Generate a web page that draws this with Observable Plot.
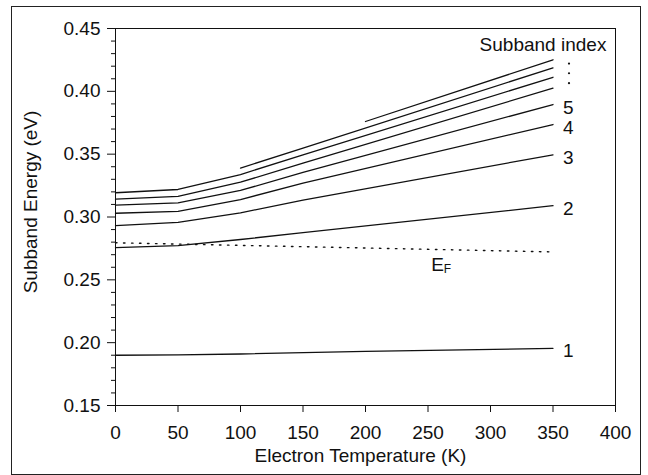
<!DOCTYPE html>
<html>
<head>
<meta charset="utf-8">
<script src="https://cdn.jsdelivr.net/npm/d3@7"></script>
<script src="https://cdn.jsdelivr.net/npm/@observablehq/plot@0.6"></script>
<style>
  body { margin: 0; background: #fff; }
  #wrap { position: relative; width: 648px; height: 475px; overflow: hidden; }
  #border { position: absolute; left: 11px; top: 6px; width: 628px; height: 467px; border: 1px solid #222; pointer-events: none; }
  #chart { position: absolute; left: 0; top: 0; }
</style>
</head>
<body>
<div id="wrap"><div id="chart"></div><div id="border"></div></div>
<script>
// Temperatures (K) at which subband energies were read
const temps = [0, 50, 100, 150, 200, 350];
// Subband energies (eV); null = no value (line not drawn there)
const band1 = [0.190, 0.1903, 0.191, null, 0.193, 0.1955];
const band2 = [0.2757, 0.2773, 0.2821, 0.2876, null, 0.309];
const band3 = [0.2932, 0.2958, 0.3033, 0.3135, null, 0.3495];
const band4 = [0.3030, 0.3045, 0.3139, 0.3269, null, 0.3736];
const band5 = [0.3094, 0.3112, 0.3211, 0.3355, null, 0.3895];
const band6 = [0.3142, 0.3164, 0.3277, 0.3429, null, 0.4025];
const band7 = [0.3193, 0.3219, 0.3338, 0.3495, null, 0.4112];
const band8 = [null, null, 0.3389, 0.3549, null, 0.4187];
const band9 = [null, null, null, null, 0.376, 0.4251];
const bands = [band1, band2, band3, band4, band5, band6, band7, band8, band9];
const bandLabels = ["1", "2", "3", "4", "5"];

// Fermi level
const efTemps = [0, 350];
const efValues = [0.2795, 0.2722];

// ellipsis dots for higher subbands
const ellipsisE = [0.4221, 0.4144, 0.4065];

const xTicks = [0, 50, 100, 150, 200, 250, 300, 350, 400];
const yTicks = [0.15, 0.20, 0.25, 0.30, 0.35, 0.40, 0.45];
const yMinor = d3.range(15, 46).filter(i => i % 5 !== 0).map(i => i / 100);

const rows = bands.flatMap((vals, i) =>
  temps.map((t, j) => ({t, e: vals[j], band: i + 1})).filter(d => d.e != null));
const endRows = bandLabels.map((lab, i) => ({t: temps[temps.length - 1], e: bands[i][bands[i].length - 1], lab}));
const efRows = efTemps.map((t, i) => ({t, e: efValues[i]}));
const dotRows = ellipsisE.map(e => ({t: 350, e}));

const FS = 19;
const chart = Plot.plot({
  width: 648,
  height: 475,
  marginLeft: 115,
  marginRight: 33,
  marginTop: 28,
  marginBottom: 70,
  style: {fontFamily: "'Liberation Sans', Arial, sans-serif", fontSize: FS + "px", color: "#111", background: "transparent"},
  x: {domain: [0, 400]},
  y: {domain: [0.15, 0.45]},
  marks: [
    Plot.axisX({ticks: xTicks, tickSize: 7, tickPadding: 13, tickFormat: d => String(d), label: null}),
    Plot.axisY({ticks: yTicks, tickSize: 8, tickPadding: 7, tickFormat: d3.format(".2f"), label: null}),
    Plot.axisY({ticks: yMinor, tickSize: 4, fill: "none", label: null}),
    Plot.frame({stroke: "#111"}),
    Plot.line(efRows, {x: "t", y: "e", stroke: "#111", strokeWidth: 1.4, strokeDasharray: "1.5 6.5"}),
    Plot.line(rows, {x: "t", y: "e", z: "band", stroke: "#111", strokeWidth: 1.3}),
    Plot.text(endRows, {x: "t", y: "e", text: "lab", dx: 10, dy: 3, textAnchor: "start", fill: "#111"}),
    Plot.dot(dotRows, {x: "t", y: "e", dx: 16, r: 1.1, fill: "#111", stroke: "none"}),
    Plot.text([{t: 342, e: 0.4373}], {x: "t", y: "e", text: () => "Subband index", textAnchor: "middle", fill: "#111"}),
    Plot.text([{t: 257.6, e: 0.2622}], {x: "t", y: "e", text: () => "E", textAnchor: "middle", fill: "#111"}),
    Plot.text([{t: 257.6, e: 0.2622}], {x: "t", y: "e", text: () => "F", dx: 10, dy: 5, fontSize: 12, textAnchor: "middle", fill: "#111"}),
    Plot.text([0], {frameAnchor: "bottom", text: () => "Electron Temperature (K)", textAnchor: "middle", lineAnchor: "middle", dx: -5, dy: 50, fill: "#111"}),
    Plot.text([0], {frameAnchor: "left", text: () => "Subband Energy (eV)", textAnchor: "middle", lineAnchor: "middle", rotate: -90, dx: -85, dy: -15, fill: "#111"})
  ]
});
document.getElementById("chart").appendChild(chart);
</script>
</body>
</html>
